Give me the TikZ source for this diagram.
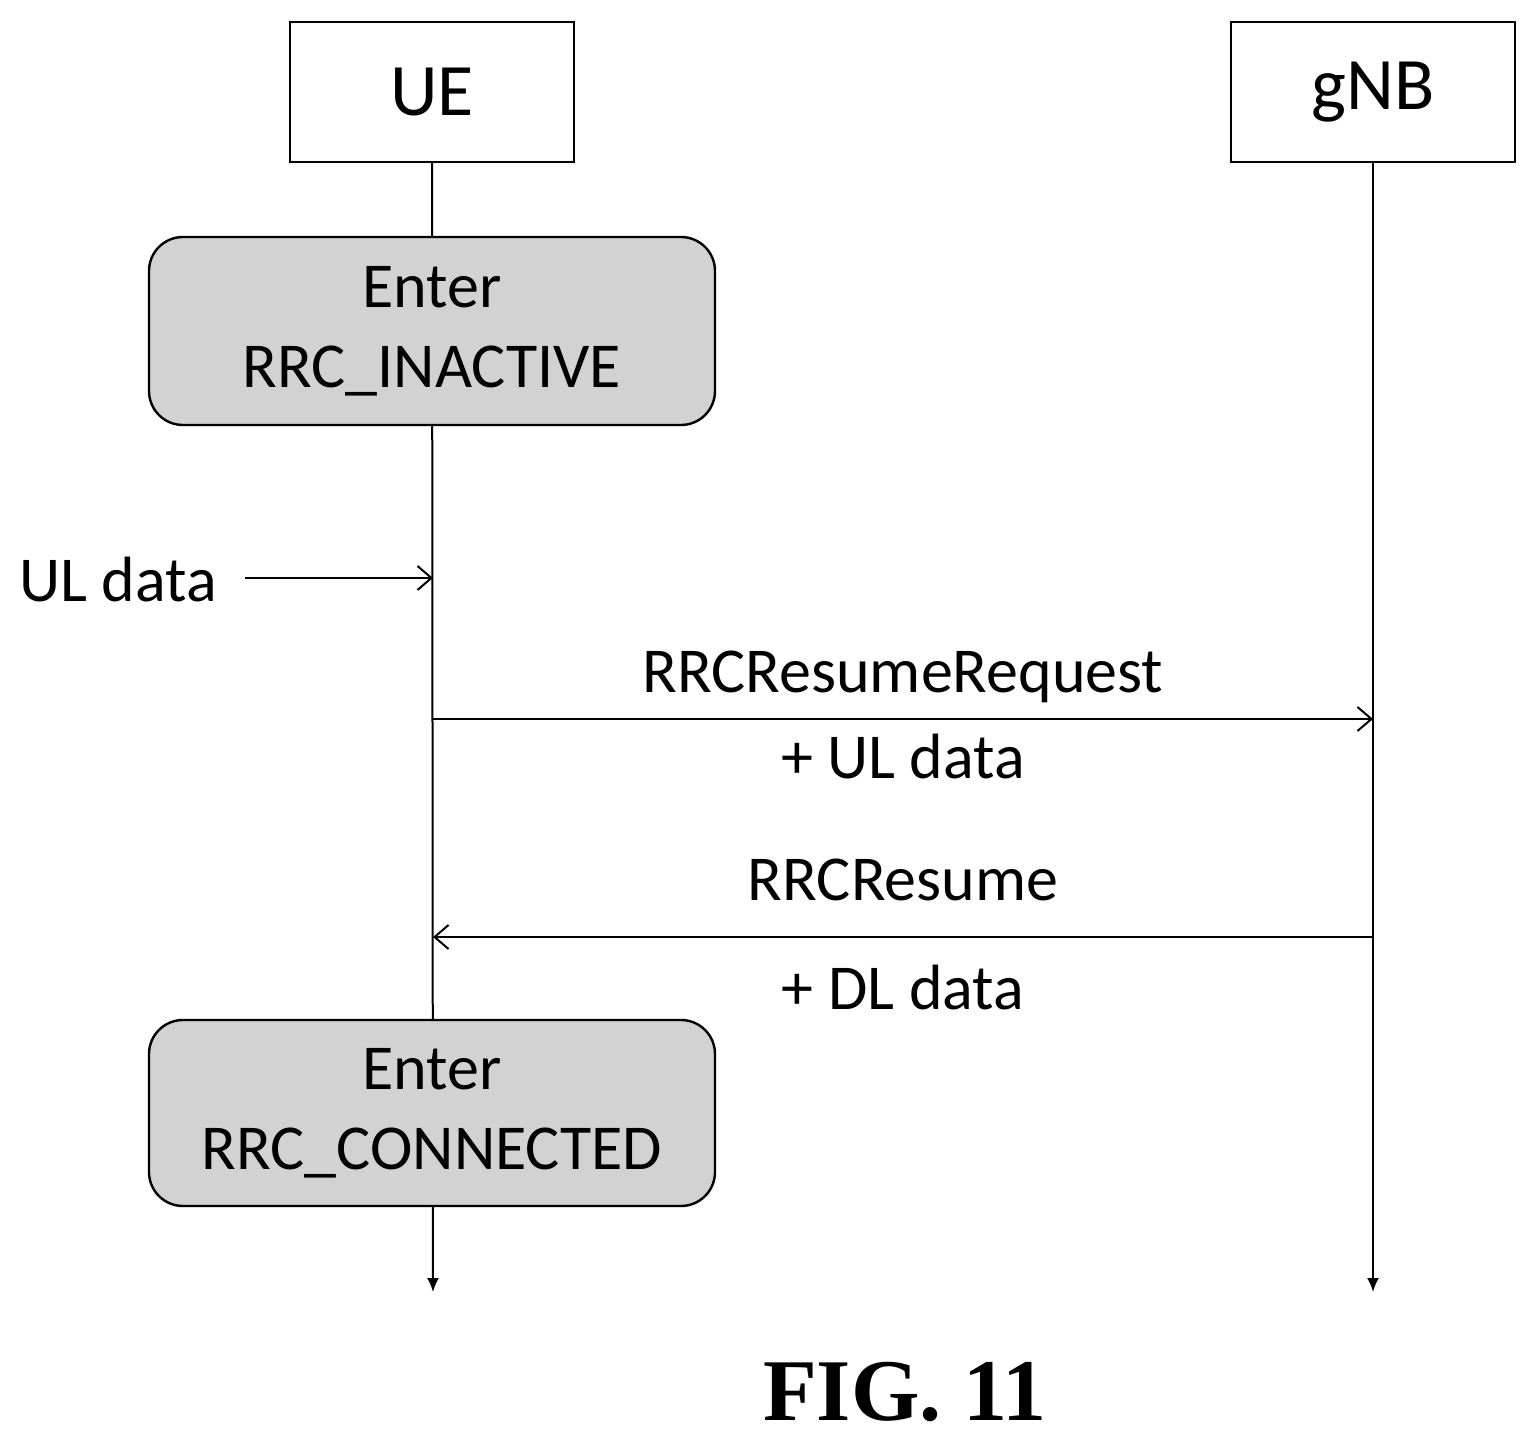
\documentclass[tikz,border=0pt]{standalone}
\usepackage{fontspec}
\setmainfont{Carlito}
\newfontfamily\figfont{Liberation Serif}
\usetikzlibrary{arrows.meta}
\begin{document}
\begin{tikzpicture}[x=0.5pt,y=-0.5pt,
 ent/.style={draw,line width=1.2pt,minimum width=142pt,minimum height=70pt,font=\fontsize{37}{40}\selectfont},
 st/.style={draw,line width=1.2pt,fill=gray!35,rounded corners=17pt,minimum width=283pt,align=center,font=\fontsize{32}{40}\selectfont},
 lbl/.style={font=\fontsize{32}{38}\selectfont},
 msg/.style={line width=1pt,-{Straight Barb[length=7pt,width=12pt]}},
 life/.style={line width=1pt,-{Latex[length=7pt,width=6pt]}}]
\useasboundingbox (0,0) rectangle (1537,1443);
\node[ent] (ue) at (432,92) {UE};
\node[ent] (gnb) at (1373,92) {gNB};
\coordinate (ueend) at (433,1292);
\coordinate (gend) at (1373,1292);
\draw[life] (ue.south) -- (ueend);
\draw[life] (gnb.south) -- (gend);
\node[st,minimum height=94pt] (ina) at (432,331) {Enter\\RRC\_INACTIVE};
\node[st,minimum height=93pt] (con) at (432,1113) {Enter\\RRC\_CONNECTED};
\node[lbl] (ul) at (118,580) {UL data};
\coordinate (ula) at (433,578);
\coordinate (uls) at (245,578);
\draw[msg] (uls) -- (ula);
\coordinate (r1) at (433,719);
\coordinate (r2) at (1373,719);
\draw[msg] (r1) -- (r2);
\node[lbl] (rq) at (903,677) {RRCResumeRequest};
\node[lbl] (rq2) at (903,757) {+ UL data};
\coordinate (s1) at (1373,937);
\coordinate (s2) at (433,937);
\draw[msg] (s1) -- (s2);
\node[lbl] (rs) at (903,880) {RRCResume};
\node[lbl] (rs2) at (903,988) {+ DL data};
\node[font=\figfont\bfseries\fontsize{44}{50}\selectfont] (fig) at (905,1392) {FIG. 11};
\end{tikzpicture}
\end{document}
